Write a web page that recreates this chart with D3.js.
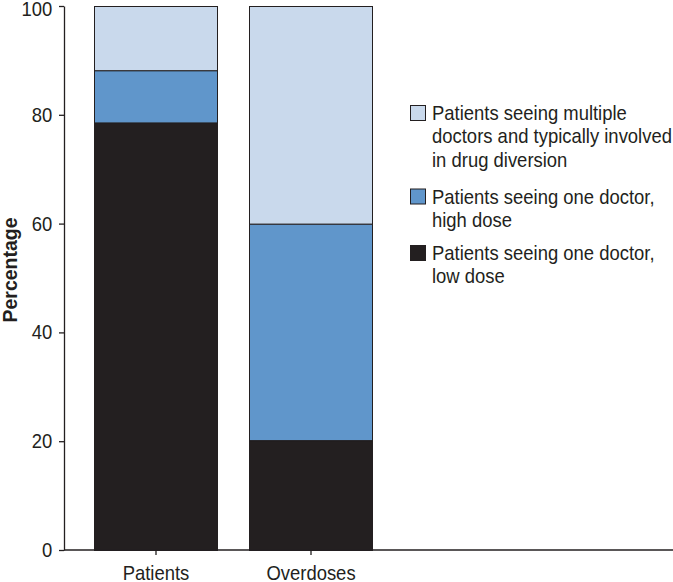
<!DOCTYPE html>
<html>
<head>
<meta charset="utf-8">
<script src="https://cdn.jsdelivr.net/npm/d3@7"></script>
<style>
  body { margin: 0; background: #fff; }
  svg text { font-family: "Liberation Sans", Arial, Helvetica, sans-serif; fill: #231f20; }
</style>
</head>
<body>
<svg id="chart"></svg>
<script>
// data
var categories = ["Patients", "Overdoses"]
var lowDose = [78.6, 20.2]
var highDose = [9.6, 39.8]
var multiDoctor = [11.8, 40.0]
var yTicks = [0, 20, 40, 60, 80, 100]

var seriesKeys = ["low", "high", "multi"]
var legendLabels = [
  ["Patients seeing multiple", "doctors and typically involved", "in drug diversion"],
  ["Patients seeing one doctor,", "high dose"],
  ["Patients seeing one doctor,", "low dose"]
]
var legendKeys = ["multi", "high", "low"]

var width = 673
var height = 582
var margin = {top: 6, right: 0, bottom: 32, left: 64}
var squeeze = 0.9   // the original uses a condensed face
var fontSize = "20.5px"

var colors = new Map().set("low", "#231f20")
                      .set("high", "#6096cb")
                      .set("multi", "#c9d9ec")

var data = categories.map((c, i) => ({name: c, low: lowDose[i], high: highDose[i], multi: multiDoctor[i]}))

const svg = d3.select("#chart")
  .attr("width", width)
  .attr("height", height)

var x = d3.scaleBand()
  .domain(categories)
  .range([margin.left - 1, 404])
  .paddingInner(0.2)
  .paddingOuter(0.2)

var y = d3.scaleLinear()
  .domain([0, 100])
  .range([height - margin.bottom, margin.top])

var stack = d3.stack().keys(seriesKeys)
var cdata = stack(data)

// bars
svg.append("g")
  .selectAll("g")
  .data(cdata)
  .join("g")
    .style("fill", d => colors.get(d.key))
  .selectAll("rect")
  .data(d => d)
  .join("rect")
    .attr("x", d => x(d.data.name) + 0.5)
    .attr("y", d => y(d[1]) + 0.5)
    .attr("width", x.bandwidth() - 1)
    .attr("height", d => y(d[0]) - y(d[1]))
    .attr("stroke", "#231f20")
    .attr("stroke-width", 1)

// x axis
svg.append("g")
  .attr("transform", `translate(0,${y(0)})`)
  .call(d3.axisBottom(x).tickSize(5).tickSizeOuter(0).tickPadding(10))
  .call(g => g.select(".domain").attr("d", `M${margin.left},0H${width}`))
  .call(g => g.selectAll("line, path").attr("stroke", "#231f20").attr("stroke-width", 1.3))
  .call(g => g.selectAll("text")
    .style("font-size", fontSize)
    .attr("fill", "#231f20")
    .attr("transform", `scale(${squeeze},1)`))

// y axis
svg.append("g")
  .attr("transform", `translate(${margin.left},0)`)
  .call(d3.axisLeft(y).tickValues(yTicks).tickSize(5).tickSizeOuter(0).tickPadding(8))
  .call(g => g.selectAll("line, path").attr("stroke", "#231f20").attr("stroke-width", 1.3))
  .call(g => g.selectAll("text")
    .style("font-size", fontSize)
    .attr("fill", "#231f20")
    .attr("transform", `scale(${squeeze},1)`)
    .attr("dy", d => d == 100 ? "0.48em" : "0.32em"))

svg.append("text")
  .attr("transform", "translate(16.5,270) rotate(-90)")
  .attr("text-anchor", "middle")
  .style("font-size", "19.5px")
  .style("font-weight", "bold")
  .text("Percentage")

// legend
var legend = svg.append("g")
var lineH = 23.5
var groupY = [120, 203.5, 260]
legendKeys.forEach((k, i) => {
  var g = legend.append("g").attr("transform", `translate(0,${groupY[i]})`)
  g.append("rect")
    .attr("x", 410.5).attr("y", -14.5)
    .attr("width", 15).attr("height", 15)
    .attr("fill", colors.get(k))
    .attr("stroke", "#231f20")
    .attr("stroke-width", 1)
  g.append("text")
    .attr("transform", `translate(432,0) scale(${squeeze},1)`)
    .style("font-size", fontSize)
    .selectAll("tspan")
    .data(legendLabels[i])
    .join("tspan")
      .attr("x", 0)
      .attr("dy", (d, j) => j == 0 ? 0 : lineH)
      .text(d => d)
})
</script>
</body>
</html>
